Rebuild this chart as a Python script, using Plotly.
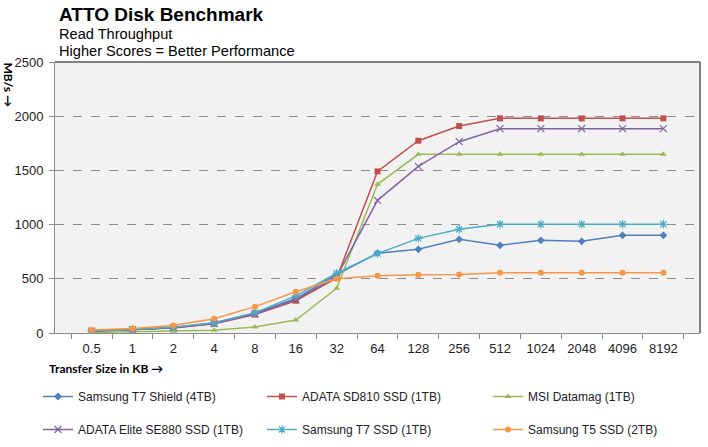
import plotly.graph_objects as go

sizes = ["0.5", "1", "2", "4", "8", "16", "32", "64", "128", "256", "512", "1024", "2048", "4096", "8192"]

t7_shield = [18, 30, 50, 92, 182, 318, 540, 736, 772, 864, 809, 855, 846, 901, 901]
sd810 = [15, 28, 46, 86, 170, 298, 507, 1491, 1774, 1909, 1980, 1980, 1980, 1980, 1980]
datamag = [5, 10, 15, 25, 55, 120, 412, 1372, 1648, 1648, 1648, 1648, 1648, 1648, 1648]
se880 = [16, 29, 48, 88, 175, 308, 520, 1224, 1537, 1765, 1885, 1885, 1885, 1885, 1885]
t7 = [20, 33, 53, 95, 188, 343, 551, 732, 873, 957, 1003, 1003, 1003, 1003, 1003]
t5 = [28, 42, 70, 132, 243, 381, 501, 529, 538, 540, 556, 556, 556, 556, 556]

names = ["Samsung T7 Shield (4TB)", "ADATA SD810 SSD (1TB)", "MSI Datamag (1TB)",
         "ADATA Elite SE880 SSD (1TB)", "Samsung T7 SSD (1TB)", "Samsung T5 SSD (2TB)"]
series = [t7_shield, sd810, datamag, se880, t7, t5]
colors = ["#4F81BD", "#C0504D", "#9BBB59", "#8064A2", "#4BACC6", "#F79646"]
symbols = ["diamond", "square", "triangle-up", "x-thin", "asterisk", "circle"]
msizes = [6, 6, 6, 7, 7, 6]
legends = ["legend", "legend2", "legend3", "legend", "legend2", "legend3"]

fig = go.Figure()
for i in range(6):
    lineonly = symbols[i] in ("x-thin", "asterisk")
    fig.add_trace(go.Scatter(
        x=sizes, y=series[i], name=names[i], mode="lines+markers",
        line=dict(color=colors[i], width=1.5),
        marker=dict(symbol=symbols[i], size=msizes[i], color=colors[i],
                    line=dict(color=colors[i], width=1.2 if lineonly else 0)),
        legend=legends[i], legendgroup=str(i),
    ))

L, R, T, B = 55, 700, 62, 333
W, H = 708, 447
pw, ph = R - L, B - T


def px(x):
    return (x - L) / pw


def py(y):
    return (B - y) / ph


font = "Liberation Sans, Arial, sans-serif"
leg_common = dict(orientation="v", yanchor="top", xanchor="left", y=py(382),
                  font=dict(family=font, size=12, color="#222"), bgcolor="rgba(0,0,0,0)",
                  tracegroupgap=14, itemwidth=30)

fig.update_layout(
    width=W, height=H,
    margin=dict(l=L, r=W - R, t=T, b=H - B, autoexpand=False),
    paper_bgcolor="white", plot_bgcolor="#F2F2F2",
    font=dict(family=font, size=12, color="#222"),
    legend=dict(x=px(38), **leg_common),
    legend2=dict(x=px(262), **leg_common),
    legend3=dict(x=px(488), **leg_common),
    xaxis=dict(type="category", showgrid=False, showline=True, linecolor="#8C8C8C", linewidth=1,
               ticks="outside", tickson="boundaries", ticklen=5, tickcolor="#8C8C8C",
               ticklabelstandoff=3,
               tickfont=dict(family=font, size=13, color="#222"), zeroline=False),
    yaxis=dict(range=[0, 2500], dtick=500, showgrid=True, gridcolor="#8C8C8C", griddash="dash",
               gridwidth=1, showline=True, linecolor="#8C8C8C", linewidth=1, ticks="outside",
               ticklen=5, tickcolor="#8C8C8C", ticklabelstandoff=3,
               tickfont=dict(family=font, size=13, color="#222"),
               zeroline=False),
    shapes=[
        dict(type="line", xref="paper", yref="paper", x0=0, x1=1, y0=1, y1=1,
             line=dict(color="#595959", width=1.5)),
        dict(type="line", xref="paper", yref="paper", x0=1, x1=1, y0=0, y1=1,
             line=dict(color="#595959", width=1.5)),
    ],
    annotations=[
        dict(text="<b>ATTO Disk Benchmark</b>", xref="paper", yref="paper", x=px(57), y=py(2),
             xanchor="left", yanchor="top", showarrow=False,
             font=dict(family=font, size=19, color="#000")),
        dict(text="Read Throughput", xref="paper", yref="paper", x=px(57), y=py(24),
             xanchor="left", yanchor="top", showarrow=False,
             font=dict(family=font, size=14.6, color="#000")),
        dict(text="Higher Scores = Better Performance", xref="paper", yref="paper", x=px(57), y=py(41),
             xanchor="left", yanchor="top", showarrow=False,
             font=dict(family=font, size=14.6, color="#000")),
        dict(text="<b>MB/s →</b>", xref="paper", yref="paper", x=px(8), y=py(60),
             xanchor="center", yanchor="top", showarrow=False, textangle=90,
             font=dict(family="Lato, sans-serif", size=12, color="#000")),
        dict(text="<b>Transfer Size in KB →</b>", xref="paper", yref="paper", x=px(47), y=py(368),
             xanchor="left", yanchor="middle", showarrow=False,
             font=dict(family="Lato, sans-serif", size=12, color="#000")),
    ],
)

fig.write_html("out.html", post_script="document.body.style.margin='0';",
               config={"displayModeBar": False})
